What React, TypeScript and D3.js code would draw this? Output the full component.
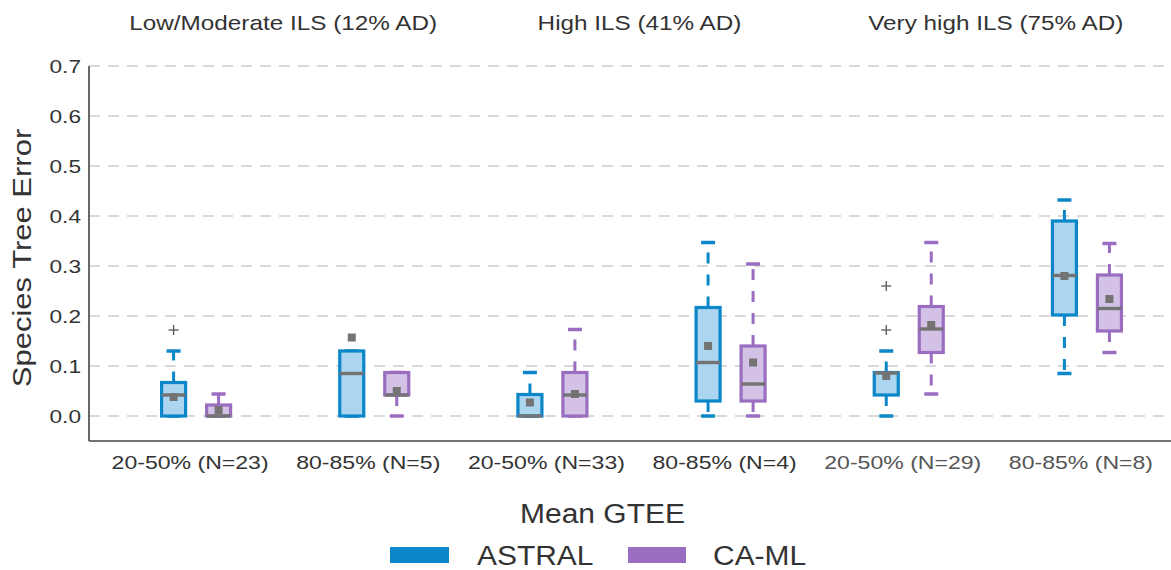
import React from "react";
import * as d3 from "d3";

const groups = ["20-50% (N=23)", "80-85% (N=5)", "20-50% (N=33)", "80-85% (N=4)", "20-50% (N=29)", "80-85% (N=8)"];
const panels = ["Low/Moderate ILS (12% AD)", "High ILS (41% AD)", "Very high ILS (75% AD)"];
const methods = ["ASTRAL", "CA-ML"];
const yTicks = [0, 0.1, 0.2, 0.3, 0.4, 0.5, 0.6, 0.7];

// ASTRAL box statistics per group
const astralLo = [0, 0, 0, 0, 0, 0.085];
const astralQ1 = [0, 0, 0, 0.03, 0.042, 0.202];
const astralMed = [0.042, 0.085, 0, 0.107, 0.086, 0.281];
const astralQ3 = [0.067, 0.13, 0.043, 0.217, 0.087, 0.39];
const astralHi = [0.13, 0.13, 0.087, 0.347, 0.13, 0.432];
const astralMean = [0.038, 0.157, 0.027, 0.14, 0.08, 0.28];
const astralOut = [[0.172], [], [], [], [0.26, 0.172], []];

// CA-ML box statistics per group
const camlLo = [0, 0, 0, 0, 0.044, 0.127];
const camlQ1 = [0, 0.042, 0, 0.03, 0.127, 0.17];
const camlMed = [0, 0.042, 0.042, 0.064, 0.174, 0.215];
const camlQ3 = [0.022, 0.087, 0.087, 0.14, 0.219, 0.282];
const camlHi = [0.044, 0.087, 0.173, 0.304, 0.347, 0.345];
const camlMean = [0.012, 0.05, 0.044, 0.107, 0.182, 0.234];
const camlOut = [[], [], [], [], [], []];

const W = 1171, H = 570;
const FONT = "'Liberation Sans', Arial, Helvetica, sans-serif";
const strokeCol = ["#0b87c9", "#9a6dc1"];
const fillCol = ["#acd6f0", "#d3c2e6"];
const gray = "#737373";

export default function App() {
  const y = d3.scaleLinear().domain([0, 0.7]).range([416, 66]);
  const x = d3.scaleBand<string>().domain(groups).range([107, 1176]).padding(0);
  const off = d3.scaleOrdinal<string, number>().domain(methods).range([-22.5, 22.5]);
  const cx = (g: string) => (x(g) as number) + x.bandwidth() / 2;
  const boxW = 24;
  const capW = 14;

  const stats = [
    { lo: astralLo, q1: astralQ1, med: astralMed, q3: astralQ3, hi: astralHi, mean: astralMean, out: astralOut },
    { lo: camlLo, q1: camlQ1, med: camlMed, q3: camlQ3, hi: camlHi, mean: camlMean, out: camlOut },
  ];

  const txt = (s: string, tx: number, ty: number, size: number, sx: number, anchor: string, fill = "#333", rot = 0) => (
    <text
      key={s + tx + ty}
      transform={`translate(${tx},${ty})${rot ? ` rotate(${rot})` : ""} scale(${sx},1)`}
      textAnchor={anchor}
      fontSize={size}
      fontFamily={FONT}
      fill={fill}
    >
      {s}
    </text>
  );

  return (
    <svg width={W} height={H} style={{ position: "absolute", left: 0, top: 0, background: "#fff" }}>
      {/* grid */}
      {yTicks.map((t) => (
        <line key={"g" + t} x1={89} x2={1171} y1={y(t)} y2={y(t)} stroke="#cdcdcd" strokeWidth={1.4} strokeDasharray="11,8" />
      ))}
      {/* axes */}
      <line x1={89} x2={89} y1={66} y2={441} stroke="#444" strokeWidth={1.6} />
      <line x1={89} x2={1171} y1={441} y2={441} stroke="#444" strokeWidth={1.6} />
      {/* y tick labels */}
      {yTicks.map((t) => txt(d3.format(".1f")(t), 81, y(t) + 6.5, 18.6, 1.22, "end", "#333"))}
      {/* y title */}
      {txt("Species Tree Error", 31, 258, 25, 1.24, "middle", "#333", -90)}
      {/* x tick labels */}
      {groups.map((g, i) => txt(g, cx(g) - 6, 469, 18.6, 1.24, "middle", i >= 4 ? "#555" : "#333"))}
      {/* panel titles */}
      {panels.map((p, i) => txt(p, (cx(groups[2 * i]) + cx(groups[2 * i + 1])) / 2 - 2, 30, 19.6, 1.24, "middle", "#333"))}
      {/* boxes */}
      {methods.map((m, mi) => {
        const s = stats[mi];
        return groups.map((g, gi) => {
          const c = cx(g) + (off(m) as number);
          const top = y(s.q3[gi]);
          const bot = y(s.q1[gi]);
          return (
            <g key={m + g}>
              <line x1={c} x2={c} y1={top} y2={y(s.hi[gi])} stroke={strokeCol[mi]} strokeWidth={3} strokeDasharray="11,11" />
              <line x1={c} x2={c} y1={bot} y2={y(s.lo[gi])} stroke={strokeCol[mi]} strokeWidth={3} strokeDasharray="11,11" />
              <line x1={c - capW / 2} x2={c + capW / 2} y1={y(s.hi[gi])} y2={y(s.hi[gi])} stroke={strokeCol[mi]} strokeWidth={3.5} />
              <line x1={c - capW / 2} x2={c + capW / 2} y1={y(s.lo[gi])} y2={y(s.lo[gi])} stroke={strokeCol[mi]} strokeWidth={3.5} />
              <rect x={c - boxW / 2} y={top} width={boxW} height={Math.max(bot - top, 0)} fill={fillCol[mi]} stroke={strokeCol[mi]} strokeWidth={3.2} />
              <line x1={c - boxW / 2} x2={c + boxW / 2} y1={y(s.med[gi])} y2={y(s.med[gi])} stroke={gray} strokeWidth={3.4} />
              <rect x={c - 4} y={y(s.mean[gi]) - 4} width={8} height={8} fill={gray} />
              {s.out[gi].map((o, oi) => (
                <g key={oi} stroke="#555" strokeWidth={1.3}>
                  <line x1={c - 5} x2={c + 5} y1={y(o)} y2={y(o)} />
                  <line x1={c} x2={c} y1={y(o) - 5} y2={y(o) + 5} />
                </g>
              ))}
            </g>
          );
        });
      })}
      {/* legend */}
      {txt("Mean GTEE", 602.5, 523, 28, 1.07, "middle", "#333")}
      <rect x={390} y={547} width={59} height={16} fill={strokeCol[0]} />
      {txt("ASTRAL", 477, 565, 28, 1.07, "start", "#333")}
      <rect x={628} y={547} width={58} height={16} fill={strokeCol[1]} />
      {txt("CA-ML", 713, 565, 28, 1.07, "start", "#333")}
    </svg>
  );
}
